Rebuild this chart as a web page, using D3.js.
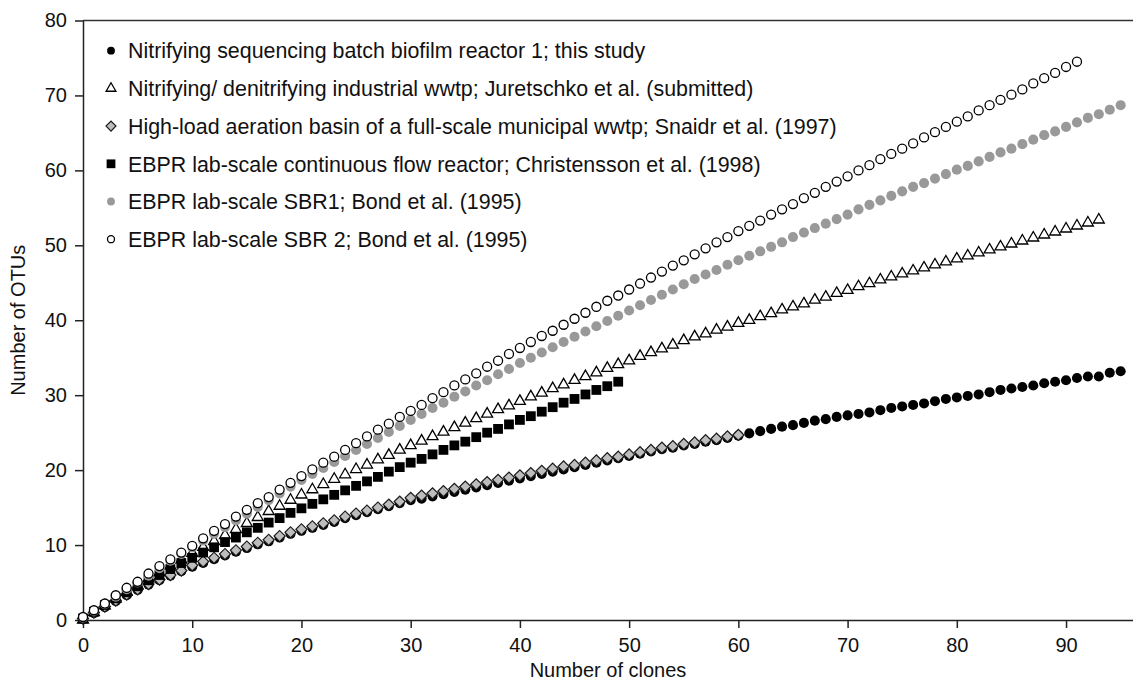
<!DOCTYPE html>
<html>
<head>
<meta charset="utf-8">
<script src="https://cdn.jsdelivr.net/npm/d3@7"></script>
<style>
  body { margin: 0; background: #fff; }
  text { font-family: "Liberation Sans", Arial, sans-serif; fill: #111; }
</style>
</head>
<body>
<div id="chart"></div>
<script>
// legend labels, in drawing order
const seriesNames = [
  "Nitrifying sequencing batch biofilm reactor 1; this study",
  "Nitrifying/ denitrifying industrial wwtp; Juretschko et al. (submitted)",
  "High-load aeration basin of a full-scale municipal wwtp; Snaidr et al. (1997)",
  "EBPR lab-scale continuous flow reactor; Christensson et al. (1998)",
  "EBPR lab-scale SBR1; Bond et al. (1995)",
  "EBPR lab-scale SBR 2; Bond et al. (1995)"
];

// number of OTUs after each clone
const sbbr = [
  0.1,0.9,1.7,2.5,3.3,4.0,4.7,5.3,5.9,6.5,
  7.1,7.6,8.1,8.6,9.1,9.6,10.1,10.5,11.0,11.5,
  11.9,12.3,12.7,13.1,13.6,14.0,14.4,14.8,15.2,15.6,
  16.0,16.2,16.5,16.8,17.1,17.4,17.7,18.0,18.3,18.6,
  18.9,19.2,19.5,19.8,20.1,20.4,20.7,21.0,21.3,21.6,
  21.9,22.2,22.5,22.8,23.0,23.3,23.5,23.8,24.0,24.3,
  24.6,24.9,25.2,25.5,25.8,26.0,26.3,26.6,26.8,27.1,
  27.3,27.5,27.7,28.0,28.3,28.5,28.7,28.9,29.2,29.5,
  29.7,29.9,30.1,30.4,30.7,30.9,31.1,31.3,31.6,31.8,
  32.0,32.3,32.5,32.5,33.0,33.2
];
const industrial = [
  0.0,1.0,1.9,2.8,3.7,4.6,5.5,6.3,7.2,8.0,
  8.9,9.7,10.5,11.3,12.1,12.9,13.7,14.5,15.2,16.0,
  16.7,17.4,18.1,18.8,19.4,20.1,20.7,21.4,22.0,22.7,
  23.3,23.9,24.5,25.1,25.7,26.3,26.9,27.5,28.1,28.6,
  29.2,29.8,30.3,30.9,31.4,32.0,32.5,33.0,33.6,34.1,
  34.6,35.2,35.7,36.2,36.7,37.3,37.8,38.2,38.7,39.1,
  39.6,40.0,40.5,40.9,41.4,41.8,42.2,42.7,43.1,43.6,
  44.0,44.5,44.9,45.4,45.8,46.2,46.6,47.0,47.4,47.8,
  48.2,48.6,49.0,49.4,49.8,50.2,50.6,51.0,51.4,51.8,
  52.2,52.6,53.0,53.4
];
const highLoad = [
  0.2,1.0,1.8,2.6,3.4,4.1,4.8,5.4,6.0,6.6,
  7.3,7.8,8.3,8.8,9.3,9.8,10.3,10.7,11.2,11.7,
  12.1,12.5,12.9,13.3,13.8,14.2,14.6,15.0,15.4,15.8,
  16.3,16.6,16.9,17.2,17.5,17.8,18.1,18.4,18.7,19.0,
  19.3,19.6,19.9,20.2,20.5,20.7,21.0,21.3,21.6,21.8,
  22.1,22.4,22.7,23.0,23.2,23.5,23.7,24.0,24.2,24.5,
  24.7
];
const contFlow = [
  0.2,1.1,2.0,2.9,3.7,4.5,5.3,6.0,6.8,7.6,
  8.3,9.0,9.7,10.4,11.0,11.7,12.3,13.0,13.6,14.3,
  14.9,15.5,16.1,16.7,17.3,17.9,18.5,19.1,19.8,20.4,
  21.0,21.5,22.1,22.7,23.3,23.8,24.4,25.0,25.5,26.1,
  26.7,27.2,27.8,28.4,29.0,29.5,30.1,30.7,31.2,31.8
];
const sbr1 = [
  0.3,1.2,2.1,3.1,4.1,5.0,5.9,6.9,7.9,8.8,
  9.7,10.6,11.5,12.4,13.3,14.2,15.1,16.0,16.9,17.8,
  18.7,19.5,20.3,21.1,21.9,22.7,23.5,24.3,25.1,25.9,
  26.7,27.5,28.3,29.0,29.8,30.5,31.3,32.0,32.8,33.5,
  34.3,35.0,35.7,36.4,37.1,37.8,38.5,39.2,39.9,40.6,
  41.3,42.0,42.7,43.4,44.1,44.8,45.5,46.1,46.7,47.4,
  48.0,48.6,49.2,49.8,50.4,51.1,51.7,52.3,52.9,53.5,
  54.1,54.8,55.4,56.0,56.6,57.2,57.8,58.3,58.9,59.5,
  60.1,60.6,61.2,61.8,62.4,62.9,63.5,64.1,64.7,65.2,
  65.8,66.4,67.0,67.5,68.1,68.7
];
const sbr2 = [
  0.4,1.3,2.2,3.3,4.3,5.1,6.2,7.2,8.1,9.0,
  9.9,10.9,11.9,12.8,13.8,14.7,15.6,16.4,17.4,18.3,
  19.2,20.1,21.0,21.8,22.7,23.6,24.5,25.4,26.2,27.1,
  27.9,28.7,29.6,30.4,31.3,32.1,32.9,33.8,34.6,35.5,
  36.3,37.1,37.9,38.6,39.4,40.2,41.0,41.8,42.6,43.3,
  44.1,44.9,45.7,46.5,47.3,48.0,48.8,49.6,50.4,51.1,
  51.9,52.6,53.3,54.1,54.8,55.5,56.3,57.0,57.8,58.5,
  59.2,60.0,60.7,61.5,62.2,62.9,63.6,64.4,65.1,65.8,
  66.5,67.2,68.0,68.7,69.4,70.1,70.8,71.6,72.3,73.0,
  73.8,74.5
];

const xTicks = [0, 10, 20, 30, 40, 50, 60, 70, 80, 90];
const yTicks = [0, 10, 20, 30, 40, 50, 60, 70, 80];

const width = 1133;
const height = 684;
const margin = { top: 20.5, left: 83, bottom: 64, right: 0 };

// marker look for each series
const styles = [
  { shape: d3.symbolCircle, size: 80, fill: "#000", stroke: "none", sw: 0, rot: 0 },
  { shape: d3.symbolTriangle, size: 52, fill: "#fff", stroke: "#000", sw: 1.3, rot: 0 },
  { shape: d3.symbolSquare, size: 62, fill: "#bdbdbd", stroke: "#1a1a1a", sw: 1.2, rot: 45 },
  { shape: d3.symbolSquare, size: 96, fill: "#000", stroke: "none", sw: 0, rot: 0 },
  { shape: d3.symbolCircle, size: 80, fill: "#999", stroke: "none", sw: 0, rot: 0 },
  { shape: d3.symbolCircle, size: 64, fill: "#fff", stroke: "#000", sw: 1.3, rot: 0 }
];

const allSeries = [sbbr, industrial, highLoad, contFlow, sbr1, sbr2];

const svg = d3.select("#chart").append("svg")
  .attr("width", width)
  .attr("height", height);

const x = d3.scaleLinear()
  .domain([0, 96.13])
  .range([margin.left, width - margin.right]);

const y = d3.scaleLinear()
  .domain([0, 80])
  .range([height - margin.bottom, margin.top]);

// top frame line
svg.append("line")
  .attr("x1", x(0)).attr("x2", width)
  .attr("y1", y(80)).attr("y2", y(80))
  .attr("stroke", "#333").attr("stroke-width", 1.5);

const xAxis = svg.append("g")
  .attr("transform", `translate(0,${y(0)})`)
  .call(d3.axisBottom(x).tickValues(xTicks).tickSize(8).tickSizeOuter(0).tickPadding(10));

const yAxis = svg.append("g")
  .attr("transform", `translate(${x(0)},0)`)
  .call(d3.axisLeft(y).tickValues(yTicks).tickSize(8).tickSizeOuter(0).tickPadding(8));

[xAxis, yAxis].forEach(a => {
  a.select(".domain").attr("stroke", "#222").attr("stroke-width", 1.5);
  a.selectAll(".tick line").attr("stroke", "#222").attr("stroke-width", 1.5);
  a.selectAll(".tick text")
    .style("font-size", "20px")
    .style("font-family", "'Liberation Sans', Arial, sans-serif")
    .attr("fill", "#111");
});

svg.append("text")
  .attr("x", (x(0) + width) / 2)
  .attr("y", 677)
  .attr("text-anchor", "middle")
  .style("font-size", "20px")
  .text("Number of clones");

svg.append("text")
  .attr("transform", `translate(25,${y(40)}) rotate(-90)`)
  .attr("text-anchor", "middle")
  .style("font-size", "20px")
  .text("Number of OTUs");

// the points
allSeries.forEach((vals, i) => {
  const st = styles[i];
  const sym = d3.symbol().type(st.shape).size(st.size);
  svg.append("g")
    .selectAll("path")
    .data(vals)
    .enter().append("path")
    .attr("d", sym)
    .attr("transform", (d, k) => `translate(${x(k)},${y(d)}) rotate(${st.rot})`)
    .attr("fill", st.fill)
    .attr("stroke", st.stroke)
    .attr("stroke-width", st.sw);
});

// legend
const legend = svg.append("g");
seriesNames.forEach((name, i) => {
  const st = styles[i];
  const cy = 50.7 + i * 37.7;
  const small = st.shape === d3.symbolCircle ? st.size * 0.6 : st.size * 0.8;
  legend.append("path")
    .attr("d", d3.symbol().type(st.shape).size(small))
    .attr("transform", `translate(111,${cy}) rotate(${st.rot})`)
    .attr("fill", st.fill)
    .attr("stroke", st.stroke)
    .attr("stroke-width", st.sw);
  legend.append("text")
    .attr("x", 128)
    .attr("y", cy)
    .attr("dy", "0.36em")
    .style("font-size", "21.4px")
    .text(name);
});
</script>
</body>
</html>
